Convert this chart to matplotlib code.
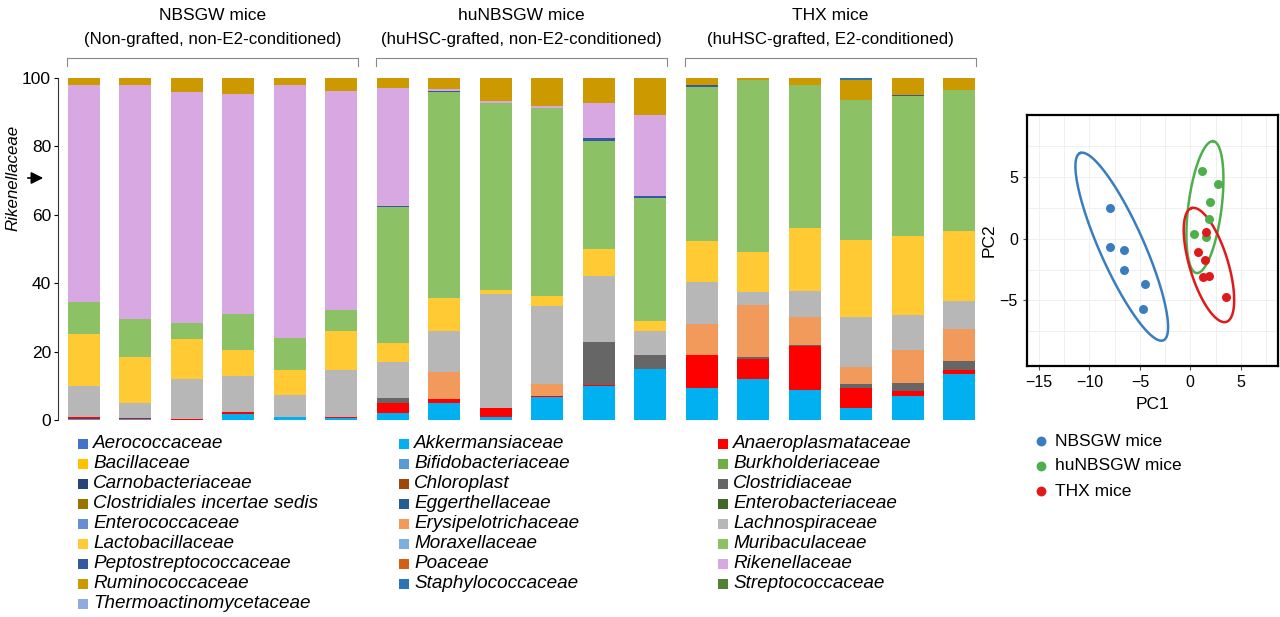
import numpy as np
import matplotlib
matplotlib.use("Agg")
import matplotlib.pyplot as plt
from matplotlib.patches import Rectangle

plt.rcParams['font.family'] = ['Liberation Sans', 'DejaVu Sans']

# ---- stacked bar data (percent), 18 mice, bottom to top ----
families_stack = ['Akkermansiaceae', 'Anaeroplasmataceae', 'Clostridiaceae', 'Erysipelotrichaceae',
                  'Lachnospiraceae', 'Lactobacillaceae', 'Muribaculaceae', 'Peptostreptococcaceae',
                  'Rikenellaceae', 'Ruminococcaceae', 'Staphylococcaceae']
akkermansiaceae     = [0.3, 0.3, 0.1, 1.8, 0.8, 0.7,   2.0, 5.1, 1.0, 6.6, 9.8, 14.8,   9.3, 11.9, 8.8, 3.4, 7.0, 13.5]
anaeroplasmataceae  = [0.6, 0.3, 0.3, 0.5, 0.0, 0.3,   3.1, 0.9, 2.6, 0.5, 0.3, 0.0,    9.6, 5.9, 12.7, 5.9, 1.6, 1.1]
clostridiaceae      = [0, 0, 0, 0, 0, 0,               1.2, 0.0, 0.0, 0.0, 12.8, 4.3,   0.0, 0.7, 0.5, 1.2, 2.3, 2.7]
erysipelotrichaceae = [0, 0, 0, 0, 0, 0,               0.0, 7.9, 0.0, 3.4, 0.0, 0.0,    9.1, 15.2, 8.2, 4.9, 9.6, 9.2]
lachnospiraceae     = [9.1, 4.3, 11.6, 10.6, 6.5, 13.6, 10.8, 12.0, 33.2, 22.9, 19.1, 6.9, 12.3, 3.7, 7.4, 14.8, 10.2, 8.4]
lactobacillaceae    = [15.1, 13.6, 11.7, 7.6, 7.3, 11.3, 5.3, 9.9, 1.1, 2.9, 8.0, 3.0,  11.9, 11.6, 18.5, 22.5, 23.0, 20.4]
muribaculaceae      = [9.3, 11.1, 4.8, 10.5, 9.3, 6.3, 40.0, 60.0, 54.8, 54.8, 31.7, 35.8, 45.2, 50.3, 41.8, 40.8, 40.9, 41.1]
peptostreptococcaceae = [0, 0, 0, 0, 0, 0,             0.2, 0.5, 0.0, 0.0, 0.7, 0.6,    0.6, 0.0, 0.0, 0.0, 0.5, 0.0]
rikenellaceae       = [63.6, 68.4, 67.5, 64.4, 74.0, 63.9, 34.5, 0.5, 0.6, 0.6, 10.3, 23.7, 0, 0, 0, 0, 0, 0]
ruminococcaceae     = [2.0, 2.0, 4.0, 4.6, 2.1, 3.9,   2.9, 3.2, 6.7, 8.3, 7.3, 10.9,   2.0, 0.7, 2.1, 6.0, 4.9, 3.6]
staphylococcaceae   = [0] * 15 + [0.5, 0, 0]

stack_values = [akkermansiaceae, anaeroplasmataceae, clostridiaceae, erysipelotrichaceae,
                lachnospiraceae, lactobacillaceae, muribaculaceae, peptostreptococcaceae,
                rikenellaceae, ruminococcaceae, staphylococcaceae]

group_titles = [('NBSGW mice', '(Non-grafted, non-E2-conditioned)'),
                ('huNBSGW mice', '(huHSC-grafted, non-E2-conditioned)'),
                ('THX mice', '(huHSC-grafted, E2-conditioned)')]

# ---- legend families (three columns) ----
legend_col1 = ['Aerococcaceae', 'Bacillaceae', 'Carnobacteriaceae', 'Clostridiales incertae sedis',
               'Enterococcaceae', 'Lactobacillaceae', 'Peptostreptococcaceae', 'Ruminococcaceae',
               'Thermoactinomycetaceae']
legend_col2 = ['Akkermansiaceae', 'Bifidobacteriaceae', 'Chloroplast', 'Eggerthellaceae',
               'Erysipelotrichaceae', 'Moraxellaceae', 'Poaceae', 'Staphylococcaceae']
legend_col3 = ['Anaeroplasmataceae', 'Burkholderiaceae', 'Clostridiaceae', 'Enterobacteriaceae',
               'Lachnospiraceae', 'Muribaculaceae', 'Rikenellaceae', 'Streptococcaceae']

colors = {
    'Aerococcaceae': '#4472C4', 'Bacillaceae': '#FFC000', 'Carnobacteriaceae': '#264478',
    'Clostridiales incertae sedis': '#997300', 'Enterococcaceae': '#698ED0',
    'Lactobacillaceae': '#FFCA33', 'Peptostreptococcaceae': '#335AA1',
    'Ruminococcaceae': '#CC9A00', 'Thermoactinomycetaceae': '#8FAADC',
    'Akkermansiaceae': '#00B0F0', 'Bifidobacteriaceae': '#5B9BD5', 'Chloroplast': '#9E480E',
    'Eggerthellaceae': '#255E91', 'Erysipelotrichaceae': '#F29A5B', 'Moraxellaceae': '#7CAFDD',
    'Poaceae': '#D26012', 'Staphylococcaceae': '#2E75B6',
    'Anaeroplasmataceae': '#FF0000', 'Burkholderiaceae': '#70AD47', 'Clostridiaceae': '#666666',
    'Enterobacteriaceae': '#43682B', 'Lachnospiraceae': '#B7B7B7', 'Muribaculaceae': '#8CC166',
    'Rikenellaceae': '#D8A8E2', 'Streptococcaceae': '#548235',
}

# ---- PCA data ----
pca_groups = ['NBSGW mice', 'huNBSGW mice', 'THX mice']
pca_colors = ['#3A7DBF', '#4DAF4A', '#E0191B']
nbsgw_pc1 = [-8.0, -8.0, -6.6, -6.6, -4.5, -4.7]
nbsgw_pc2 = [2.5, -0.7, -0.9, -2.5, -3.7, -5.7]
hunbsgw_pc1 = [1.2, 2.7, 2.0, 1.9, 0.4, 1.6]
hunbsgw_pc2 = [5.5, 4.4, 3.0, 1.6, 0.4, 0.1]
thx_pc1 = [1.6, 0.8, 1.5, 1.3, 1.9, 3.5]
thx_pc2 = [0.5, -1.1, -1.7, -3.1, -3.0, -4.7]
# ellipse: centre, semi-major vector, semi-minor vector (PC units)
ellipse_centers = [(-6.8, -0.65), (1.45, 2.55), (1.85, -2.13)]
ellipse_major = [(-4.14, 7.57), (0.83, 5.33), (-1.72, 4.60)]
ellipse_minor = [(2.0, 0.73), (1.64, -0.17), (1.82, 0.45)]

W, H = 1280, 617
fig = plt.figure(figsize=(W / 100, H / 100), dpi=100)

# ---------------- stacked bars ----------------
ax = fig.add_axes([58 / W, (H - 420) / H, (985 - 58) / W, (420 - 78) / H])
x = np.arange(len(akkermansiaceae))
bottom = np.zeros(len(x))
for name, vals in zip(families_stack, stack_values):
    vals = np.array(vals, dtype=float)
    ax.bar(x, vals, bottom=bottom, width=0.62, color=colors[name], linewidth=0)
    bottom += vals

ax.set_xlim(-0.5, 17.5)
ax.set_ylim(0, 100)
ax.set_xticks([])
ax.set_yticks([0, 20, 40, 60, 80, 100])
ax.tick_params(axis='y', labelsize=12.5, length=3, width=0.8, pad=2)
for s in ['top', 'right', 'bottom']:
    ax.spines[s].set_visible(False)
ax.spines['left'].set_color('#333333')

trans = ax.get_xaxis_transform()
for g, (t1, t2) in enumerate(group_titles):
    x0, x1 = g * 6 - 0.33, g * 6 + 5.33
    ax.plot([x0, x0, x1, x1], [1.035, 1.058, 1.058, 1.035], color='#888888', lw=0.8,
            transform=trans, clip_on=False)
    ax.text(g * 6 + 2.5, 1.184, t1, transform=trans, ha='center', va='center', fontsize=12.5)
    ax.text(g * 6 + 2.5, 1.114, t2, transform=trans, ha='center', va='center', fontsize=12.2)

# ---------------- overlay for labels and legend ----------------
ov = fig.add_axes([0, 0, 1, 1])
ov.set_xlim(0, W)
ov.set_ylim(H, 0)
ov.axis('off')
ov.patch.set_alpha(0)

ov.text(13, 178, 'Rikenellaceae', rotation=90, style='italic', fontsize=12.2,
        ha='center', va='center')
ov.annotate('', xy=(46, 178), xytext=(25, 178),
            arrowprops=dict(arrowstyle='-|>', color='black', lw=1.2, mutation_scale=18))

for col_x, names in zip([78, 399, 718], [legend_col1, legend_col2, legend_col3]):
    for i, name in enumerate(names):
        yy = 444 + i * 20
        ov.add_patch(Rectangle((col_x, yy - 5), 10, 10, color=colors[name], lw=0))
        ov.text(col_x + 15, yy, name, style='italic', fontsize=13.6, ha='left', va='center')

# ---------------- PCA ----------------
pax = fig.add_axes([1027 / W, (H - 366) / H, (1278 - 1027) / W, (366 - 115) / H])
pax.set_xlim(-16.2, 8.7)
pax.set_ylim(-10.3, 10.0)
pax.set_xticks([-15, -10, -5, 0, 5])
pax.set_yticks([-5, 0, 5])
pax.set_xticks([-12.5, -7.5, -2.5, 2.5, 7.5], minor=True)
pax.set_yticks([-7.5, -2.5, 2.5, 7.5], minor=True)
pax.grid(True, which='both', color='#EEEEEE', lw=0.6)
pax.set_axisbelow(True)
pax.tick_params(axis='both', which='major', labelsize=11.5, length=3, color='#555555')
pax.tick_params(axis='both', which='minor', length=0)
for s in pax.spines.values():
    s.set_linewidth(1.6)
    s.set_color('black')
pax.set_xlabel('PC1', fontsize=12.5, labelpad=5)
pax.set_ylabel('PC2', fontsize=12.5, labelpad=2)

pcs = [(nbsgw_pc1, nbsgw_pc2), (hunbsgw_pc1, hunbsgw_pc2), (thx_pc1, thx_pc2)]
t = np.linspace(0, 2 * np.pi, 200)
for (px, py), c, ctr, mj, mn in zip(pcs, pca_colors, ellipse_centers, ellipse_major, ellipse_minor):
    ex = ctr[0] + mj[0] * np.cos(t) + mn[0] * np.sin(t)
    ey = ctr[1] + mj[1] * np.cos(t) + mn[1] * np.sin(t)
    pax.plot(ex, ey, color=c, lw=1.8)
    pax.scatter(px, py, s=42, color=c, lw=0, zorder=3)

for i, (name, c) in enumerate(zip(pca_groups, pca_colors)):
    yy = 441 + i * 25
    ov.scatter([1041], [yy], s=50, color=c, lw=0)
    ov.text(1055, yy, name, fontsize=12.5, ha='left', va='center')

fig.savefig('out.png', dpi=100)
